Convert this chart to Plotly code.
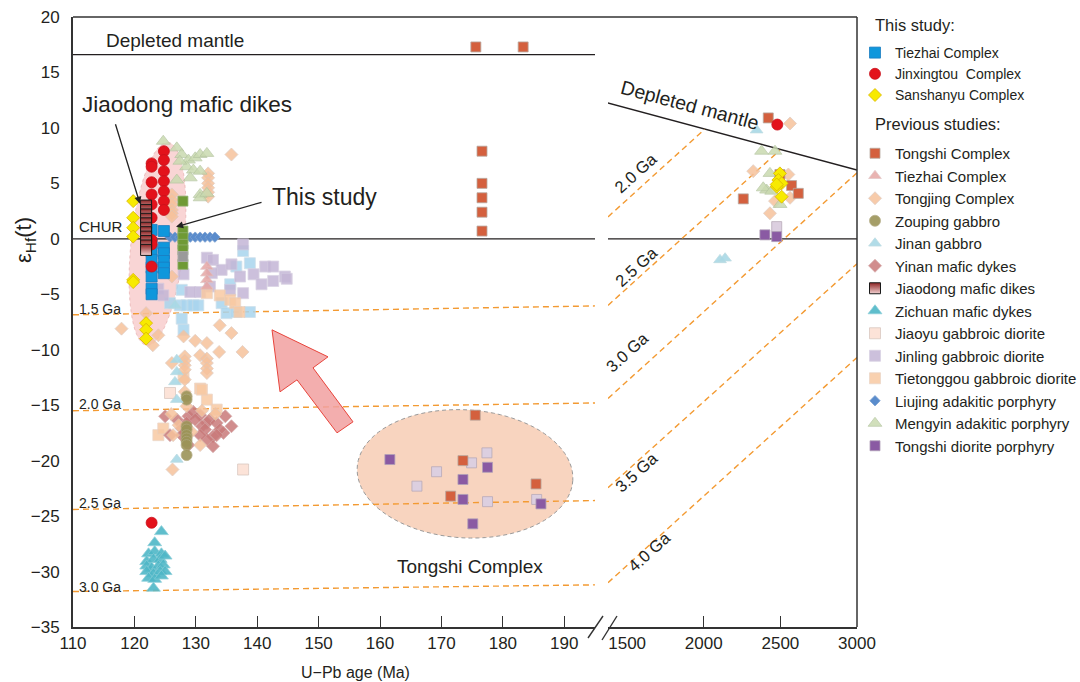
import numpy as np
import plotly.graph_objects as go

FONT = "Liberation Sans, Arial, sans-serif"
TXT = "#231f20"

# ---------------- data (age in Ma, epsilon Hf(t)) ----------------
# This study
tiezhai_age = [122.8]*8 + [124.8]*6
tiezhai_ehf = [0.8, -0.4, -1.1, -1.9, -2.6, -3.4, -4.5, -5.0, 0.7, -0.8, -1.3, -2.0, -2.6, -3.1]

jinxingtou_age = [122.8]*10 + [124.8]*7
jinxingtou_ehf = [6.8, 6.5, 5.1, 4.0, 3.1, 1.9, -0.1, -0.5, -2.5, -25.6, 7.9, 7.1, 6.1, 5.2, 4.3, 3.4, 2.6]
jinxingtou_age_old = [2480]
jinxingtou_ehf_old = [10.3]

sanshanyu_age = [119.8]*6 + [121.9]*3
sanshanyu_ehf = [3.4, 1.9, 1.0, 0.2, -3.7, -3.9, -7.6, -8.2, -9.0]
sanshanyu_age_old = [2497, 2487, 2508, 2476, 2508, 2476]
sanshanyu_ehf_old = [5.9, 5.3, 5.0, 4.7, 3.8, 4.9]

# Previous studies
tongshi_age = [175.6, 183.3, 176.6, 176.6, 176.6, 176.6, 176.6, 175.5, 173.5, 171.5, 185.4]
tongshi_ehf = [17.3, 17.3, 7.9, 5.0, 3.7, 2.4, 0.7, -15.9, -20.0, -23.2, -22.1]
tongshi_age_old = [2421, 2258, 2497, 2573, 2617]
tongshi_ehf_old = [10.9, 3.6, 5.8, 4.8, 4.1]

tiezhai_prev_age = [131.8, 131.8, 131.8, 131.8]
tiezhai_prev_ehf = [-2.5, -3.1, -3.7, -4.3]

tongjing_age = [126.1, 126.1, 126.1, 126.1, 126.1, 126.1, 126.1,
                132.0, 132.0, 132.0, 132.0, 132.0, 132.0, 135.8,
                117.9, 121.9, 123.9, 123.0, 128.0, 129.9, 131.8, 133.8, 135.8, 137.6, 133.9, 130.7,
                131.8, 131.8, 131.8, 131.8,
                126.1, 128.2, 128.2, 128.2, 128.2, 128.2, 128.2, 128.5, 126.3, 130.7, 126.2,
                127.2, 129.3, 131.0, 126.0, 133.2]
tongjing_ehf = [4.0, 3.5, 3.1, 2.6, 2.3, 2.0, -3.4,
                5.9, 5.5, 5.0, 4.6, 4.2, 3.8, 7.6,
                -8.1, -6.7, -8.7, -9.6, -8.8, -9.2, -9.4, -10.2, -8.5, -10.2, -7.8, -10.5,
                -10.8, -11.2, -11.7, -12.1,
                -11.2, -10.6, -11.0, -11.4, -11.8, -12.7, -13.8, -15.1, -17.7, -18.6, -20.8,
                -16.8, -17.4, -15.5, -15.8, -15.8]
tongjing_age_old = [2563, 2323, 2552, 2465, 2432, 2563]
tongjing_ehf_old = [10.4, 6.1, 5.8, 3.4, 2.3, 3.7]

zouping_age = [128.5]*9
zouping_ehf = [-14.2, -14.5, -16.9, -17.2, -17.7, -18.0, -18.3, -18.6, -19.5]

jinan_age = [126.9, 126.9, 126.6, 126.9, 126.9, 126.6]
jinan_ehf = [-10.9, -12.0, -12.9, -14.5, -19.9, -6.0]
jinan_age_old = [2345, 2106, 2139]
jinan_ehf_old = [9.8, -1.9, -1.75]

yinan_age = [125.0, 126.9, 127.7, 128.8, 125.8, 127.7, 129.6, 130.7, 131.8, 131.0, 132.3, 133.4, 134.8,
             135.8, 134.5, 132.8, 131.8, 132.8, 128.8, 133.9, 131.5, 129.9, 130.7, 133.4, 128.5]
yinan_ehf = [-16.0, -16.3, -17.1, -16.0, -17.7, -17.7, -15.6, -15.9, -16.6, -16.9, -16.3, -16.6, -16.0,
             -16.9, -17.5, -17.8, -18.1, -18.7, -18.6, -17.2, -17.2, -16.3, -17.7, -17.7, -16.6]

jiaodong_age = [121.9]*11
jiaodong_ehf = [3.0, 2.6, 2.2, 1.8, 1.4, 1.0, 0.6, 0.2, -0.2, -0.6, -1.0]

zichuan_age = [124.4, 123.3, 122.3, 123.3, 124.4, 122.0, 123.1, 124.2, 125.0, 122.0, 122.8, 123.9,
               124.7, 122.0, 123.1, 124.2, 125.0, 122.3, 123.3, 124.4, 123.1]
zichuan_ehf = [-26.4, -27.4, -28.4, -28.2, -28.4, -29.1, -28.9, -28.9, -28.6, -29.5, -29.7, -29.5,
               -29.4, -30.0, -30.2, -30.0, -30.0, -30.6, -30.7, -30.4, -31.5]

jiaoyu_age = [137.7, 125.8]
jiaoyu_ehf = [-20.8, -13.9]

jinling_age = [137.7, 131.8, 132.8, 134.2, 135.8, 137.2, 139.4, 141.3, 142.6, 142.6, 144.5, 140.7,
               137.7, 135.6, 132.6, 132.3, 130.7, 129.1, 128.0, 123.9, 124.7, 144.8]
jinling_ehf = [-0.5, -1.7, -1.9, -2.8, -2.3, -3.4, -3.2, -2.5, -2.5, -3.8, -3.4, -4.1,
               -4.9, -4.6, -3.1, -4.3, -4.8, -4.8, -3.2, -4.5, -5.1, -3.6]

tietonggou_age = [131.8, 133.9, 135.6, 136.4, 128.0, 130.7, 131.8, 123.9, 124.7, 131.0, 133.4, 137.1]
tietonggou_ehf = [-4.9, -5.1, -5.5, -5.8, -12.5, -13.5, -14.5, -17.7, -17.1, -13.6, -15.4, -6.6]

liujing_age = [125.8, 126.6, 127.4, 128.2, 129.1, 129.9, 130.7, 131.5, 132.3, 133.1]
liujing_ehf = [0.15]*10

mengyin_age = [124.7, 126.9, 127.7, 128.8, 129.9, 130.7, 131.8, 128.5, 129.6, 130.7, 129.1,
               130.7, 130.7, 126.9, 131.8, 127.4]
mengyin_ehf = [8.8, 8.2, 7.6, 7.1, 7.3, 7.6, 7.7, 6.5, 6.2, 6.1, 5.5, 4.0, 3.7, 5.3, 4.1, 7.0]
mengyin_age_old = [2377, 2465, 2432, 2410, 2388, 2443, 2498]
mengyin_ehf_old = [7.9, 7.9, 5.9, 4.4, 4.6, 4.3, 3.1]

tsdiorite_age = [161.6, 177.5, 173.5, 173.5, 186.2, 175.1]
tsdiorite_ehf = [-19.9, -20.6, -21.7, -23.5, -23.9, -25.7]
tsdiorite_age_old = [2399, 2476]
tsdiorite_ehf_old = [0.36, 0.2]

# unlabelled symbols present in the figure
lilac_age = [177.4, 174.9, 169.2, 166.0, 177.5, 185.5]
lilac_ehf = [-19.3, -20.2, -21.0, -22.3, -23.7, -23.5]
lilac_age_old = [2476]
lilac_ehf_old = [1.1]

ltblue_age = [136.6, 138.8, 137.7, 135.6, 127.7, 125.8, 127.4, 128.5, 129.6, 130.4, 134.2, 135.0,
              136.6, 138.8, 127.7, 128.0]
ltblue_ehf = [-2.5, -2.2, -1.1, -4.1, -4.6, -5.8, -6.0, -6.0, -6.0, -6.0, -5.8, -6.7,
              -6.6, -6.6, -7.2, -8.2]

green_age = [127.9]*6
green_ehf = [3.4, 0.7, 0.1, -0.5, -1.0, -2.3]
grey_age = [127.9]
grey_ehf = [-1.6]

# reference lines
dm_young_age = [110, 195]; dm_young_ehf = [16.6, 16.6]
chur_young_age = [110, 195]; chur_old_age = [1375, 3000]
dm_old_age = [1360, 3000]; dm_old_ehf = [12.3, 6.2]
crust_young = {  # label: (ehf at 110 Ma, ehf at 195 Ma)
    "1.5 Ga": (-6.85, -6.05), "2.0 Ga": (-15.5, -14.8),
    "2.5 Ga": (-24.4, -23.6), "3.0 Ga": (-31.8, -31.2)}
crust_old = {  # (age0, ehf0, age1, ehf1)
    "2.0 Ga": (1375, 1.98, 2005, 9.87), "2.5 Ga": (1375, -6.0, 2497, 8.0),
    "3.0 Ga": (1375, -14.4, 3000, 5.95), "3.5 Ga": (1375, -22.45, 3000, -2.25),
    "4.0 Ga": (1375, -31.0, 3000, -10.7)}

# ---------------- figure ----------------
fig = go.Figure()
OR = "#f39a32"

def line(xs, ys, xa, color=TXT, width=1.3, dash=None):
    fig.add_trace(go.Scatter(x=xs, y=ys, mode="lines", xaxis=xa, yaxis="y",
                             line=dict(color=color, width=width, dash=dash),
                             showlegend=False, hoverinfo="skip"))

line(dm_young_age, dm_young_ehf, "x")
line(chur_young_age, [0, 0], "x")
line(chur_old_age, [0, 0], "x2")
line(dm_old_age, dm_old_ehf, "x2", width=1.6)
for k, (a, b) in crust_young.items():
    line([110, 195], [a, b], "x", color=OR, width=1.4, dash="6px,4px")
for k, (x0, y0, x1, y1) in crust_old.items():
    line([x0, x1], [y0, y1], "x2", color=OR, width=1.4, dash="6px,4px")

def pts(x, y, xa, name, symbol, color, size, lcol="rgba(150,150,150,0.6)", lw=0.8,
        opacity=1.0, legend=None, rank=None, show=True, gradient=None):
    m = dict(symbol=symbol, color=color, size=size, opacity=opacity,
             line=dict(color=lcol, width=lw))
    if gradient:
        m["gradient"] = gradient
    fig.add_trace(go.Scatter(x=x, y=y, mode="markers", xaxis=xa, yaxis="y", name=name,
                             marker=m, legendgroup=name, showlegend=(legend is not None and show),
                             legend=legend if legend else "legend", legendrank=rank or 1000))

# unlabelled
pts(ltblue_age, ltblue_ehf, "x", "lb", "square", "#a9d5ee", 11, lcol="#c8dce8", opacity=0.85)
pts(lilac_age, lilac_ehf, "x", "lil", "square", "#dccfe0", 10, lcol="#b8aab8")
pts(lilac_age_old, lilac_ehf_old, "x2", "lil", "square", "#dccfe0", 10, lcol="#b8aab8")

# previous studies
S = dict(
    tongshi=("Tongshi Complex", "square", "#d4603e", 10, "#b8a8a0", 1.0),
    tiezhaip=("Tiezhai Complex", "triangle-up", "#e6a6a4", 11, "#e0c0c0", 0.85),
    tongjing=("Tongjing Complex", "diamond", "#f6c29c", 10, "#dcc8bc", 0.85),
    zouping=("Zouping gabbro", "circle", "#9c9458", 11, "#b0a880", 0.9),
    jinan=("Jinan gabbro", "triangle-up", "#a9d9e6", 11, "#b8d8e0", 0.9),
    yinan=("Yinan mafic dykes", "diamond", "#c97a7a", 10, "#d0a0a0", 0.85),
    zichuan=("Zichuan mafic dykes", "triangle-up", "#4eb7c7", 12, "#80cad6", 0.9),
    jiaoyu=("Jiaoyu gabbroic diorite", "square", "#fce3d8", 11, "#d8c8c0", 1.0),
    jinling=("Jinling gabbroic diorite", "square", "#c4b6d6", 11, "#d4cce0", 0.85),
    tietong=("Tietonggou gabbroic diorite", "square", "#f8c9a3", 11, "#e8d0c0", 0.85),
    liujing=("Liujing adakitic porphyry", "diamond", "#5a8ccc", 8, "#7aa0d0", 1.0),
    mengyin=("Mengyin adakitic porphyry", "triangle-up", "#c9dab0", 12, "#b4c4a0", 0.85),
    tsdio=("Tongshi diorite porphyry", "square", "#8a5aa3", 10, "#b0a0b8", 1.0),
)
order = ["tongshi", "tiezhaip", "tongjing", "zouping", "jinan", "yinan", "jiaodong",
         "zichuan", "jiaoyu", "jinling", "tietong", "liujing", "mengyin", "tsdio"]

def prev(key, x, y, xa="x", show=True):
    n, sym, c, s, lc, op = S[key]
    pts(x, y, xa, n, sym, c, s, lcol=lc, opacity=op, legend="legend2",
        rank=order.index(key) + 10, show=show)

prev("jinling", jinling_age, jinling_ehf)
prev("tietong", tietonggou_age, tietonggou_ehf)
prev("jiaoyu", jiaoyu_age, jiaoyu_ehf)
prev("yinan", yinan_age, yinan_ehf)
prev("tongjing", tongjing_age, tongjing_ehf)
prev("tongjing", tongjing_age_old, tongjing_ehf_old, "x2", show=False)
prev("zouping", zouping_age, zouping_ehf)
prev("jinan", jinan_age, jinan_ehf)
prev("jinan", jinan_age_old, jinan_ehf_old, "x2", show=False)
prev("zichuan", zichuan_age, zichuan_ehf)
prev("tiezhaip", tiezhai_prev_age, tiezhai_prev_ehf)
prev("mengyin", mengyin_age, mengyin_ehf)
prev("mengyin", mengyin_age_old, mengyin_ehf_old, "x2", show=False)
prev("liujing", liujing_age, liujing_ehf)
prev("tongshi", tongshi_age, tongshi_ehf)
prev("tongshi", tongshi_age_old, tongshi_ehf_old, "x2", show=False)
prev("tsdio", tsdiorite_age, tsdiorite_ehf)
prev("tsdio", tsdiorite_age_old, tsdiorite_ehf_old, "x2", show=False)
pts(green_age, green_ehf, "x", "gr", "square", "#6f9a35", 10, lcol="#90b070")
pts(grey_age, grey_ehf, "x", "gy", "square", "#9a9a9a", 10, lcol="#b0b0b0")

# this study
pts(tiezhai_age, tiezhai_ehf, "x", "Tiezhai Complex ", "square", "#0f97dc", 11,
    lcol="#1a7cc0", legend="legend", rank=1)
pts(jinxingtou_age, jinxingtou_ehf, "x", "Jinxingtou  Complex", "circle", "#e3121b", 11,
    lcol="#c8101a", legend="legend", rank=2)
pts(jinxingtou_age_old, jinxingtou_ehf_old, "x2", "Jinxingtou  Complex", "circle", "#e3121b", 11,
    lcol="#c8101a", legend="legend", rank=2, show=False)
pts(sanshanyu_age, sanshanyu_ehf, "x", "Sanshanyu Complex", "diamond", "#f7ea00", 10,
    lcol="#d8b400", legend="legend", rank=3)
pts(sanshanyu_age_old, sanshanyu_ehf_old, "x2", "Sanshanyu Complex", "diamond", "#f7ea00", 10,
    lcol="#d8b400", legend="legend", rank=3, show=False)
pts(jiaodong_age, jiaodong_ehf, "x", "Jiaodong mafic dikes", "square", "#8e2424", 11,
    lcol="#1a1a1a", lw=1, legend="legend2", rank=order.index("jiaodong") + 10,
    gradient=dict(type="vertical", color="#f2d2d2"))

# ---------------- shapes (pixel helpers for decorations) ----------------
def px2d(px, py):
    return 110 + (px - 73) / 6.141, (239 - py) / 11.09

def ellipse_path(cx, cy, a, b, ang_deg, n=90):
    t = np.linspace(0, 2 * np.pi, n)
    ang = np.radians(ang_deg)
    xs = cx + a * np.cos(t) * np.cos(ang) - b * np.sin(t) * np.sin(ang)
    ys = cy + a * np.cos(t) * np.sin(ang) + b * np.sin(t) * np.cos(ang)
    p = [px2d(x, y) for x, y in zip(xs, ys)]
    return "M " + " L ".join(f"{x:.3f},{y:.3f}" for x, y in p) + " Z"

shapes = []
shapes.append(dict(type="path", xref="x", yref="y", path=ellipse_path(157.5, 244, 102, 26.5, -84),
                   fillcolor="rgba(245,188,188,0.62)", line=dict(color="rgba(225,160,160,0.7)", width=0.8, dash="dot"),
                   layer="below"))
shapes.append(dict(type="path", xref="x", yref="y", path=ellipse_path(465, 474, 108, 64, 3.5),
                   fillcolor="rgba(247,205,180,0.85)", line=dict(color="#9a9a9a", width=1, dash="4px,3px"),
                   layer="below"))
arrow_px = [(272, 330), (328, 357), (313, 368), (353, 422), (337, 433), (297, 380), (280, 392)]
arr = [px2d(*p) for p in arrow_px]
shapes.append(dict(type="path", xref="x", yref="y",
                   path="M " + " L ".join(f"{x:.3f},{y:.3f}" for x, y in arr) + " Z",
                   fillcolor="rgba(241,160,160,0.85)", line=dict(color="#e8453c", width=1)))
# frame top / right
shapes.append(dict(type="line", xref="paper", yref="paper", x0=0, x1=1, y0=1, y1=1,
                   line=dict(color="#333", width=1.5)))
shapes.append(dict(type="line", xref="paper", yref="paper", x0=1, x1=1, y0=0, y1=1,
                   line=dict(color="#333", width=1.5)))
# axis break marks
for x0, y0, x1, y1 in [(588, 638, 603, 616), (602, 640, 617, 616)]:
    shapes.append(dict(type="line", xref="paper", yref="paper",
                       x0=(x0 - 73) / 784, x1=(x1 - 73) / 784,
                       y0=(627 - y0) / 610, y1=(627 - y1) / 610,
                       line=dict(color="#333", width=1.4)))

# ---------------- annotations ----------------
ann = []
def txt(x, y, s, size, xref="x", anchor="left", angle=0):
    ann.append(dict(x=x, y=y, xref=xref, yref="y", text=s, showarrow=False, xanchor=anchor,
                    yanchor="middle", textangle=angle, font=dict(family=FONT, size=size, color=TXT)))

txt(115.0, 17.85, "Depleted mantle", 19)
txt(110.6, 1.1, "CHUR", 15)
txt(111.1, 12.1, "Jiaodong mafic dikes", 22.5)
txt(142.1, 3.8, "This study", 23)
txt(162.4, -29.5, "Tongshi Complex", 19)
for lab, yy in [("1.5 Ga", -6.3), ("2.0 Ga", -14.9), ("2.5 Ga", -23.8), ("3.0 Ga", -31.4)]:
    txt(110.7, yy, lab, 14)
for lab, (xx, yy) in {"2.0 Ga": (1555, 5.9), "2.5 Ga": (1555, -2.5), "3.0 Ga": (1500, -10.2),
                      "3.5 Ga": (1560, -21.0), "4.0 Ga": (1640, -28.2)}.items():
    txt(xx, yy, lab, 16.5, xref="x2", anchor="center", angle=-42)
txt(1913, 12.1, "Depleted mantle", 19.5, xref="x2", anchor="center", angle=15)

# arrows
hx, hy = px2d(140, 204); tx, ty = px2d(115, 123)
ann.append(dict(x=hx, y=hy, ax=tx, ay=ty, xref="x", yref="y", axref="x", ayref="y", text="",
                showarrow=True, arrowhead=2, arrowsize=1.1, arrowwidth=1.3, arrowcolor="#222"))
hx, hy = px2d(176, 227); tx, ty = px2d(263, 202)
ann.append(dict(x=hx, y=hy, ax=tx, ay=ty, xref="x", yref="y", axref="x", ayref="y", text="",
                showarrow=True, arrowhead=2, arrowsize=1.1, arrowwidth=1.3, arrowcolor="#222"))

# axis titles and legend headers
def ptxt(px, py, s, size, anchor="center", angle=0):
    ann.append(dict(x=(px - 73) / 784, y=(627 - py) / 610, xref="paper", yref="paper",
                    text=s, showarrow=False, xanchor=anchor, yanchor="middle", textangle=angle,
                    font=dict(family=FONT, size=size, color=TXT)))

ptxt(355, 672, "U\u2212Pb age (Ma)", 16)
ptxt(25, 240, "\u03b5<sub>Hf</sub>(t)", 22, angle=-90)
ptxt(873, 25, "This study:", 16.5, anchor="left")
ptxt(873, 124, "Previous studies:", 16.5, anchor="left")

axis_common = dict(showline=True, linecolor="#333", linewidth=2, showgrid=False, zeroline=False,
                   ticks="", tickfont=dict(family=FONT, size=17, color=TXT))

fig.update_layout(
    width=1080, height=682, paper_bgcolor="white", plot_bgcolor="white",
    margin=dict(l=73, r=223, t=17, b=55, autoexpand=False),
    font=dict(family=FONT, color=TXT),
    xaxis=dict(domain=[0, 522 / 784], range=[110, 195], tickvals=list(range(110, 200, 10)),
               minor=dict(tickvals=list(range(120, 200, 10)), ticks="inside", ticklen=11,
                          tickcolor="#333", tickwidth=1.2), **axis_common),
    xaxis2=dict(domain=[535 / 784, 1], range=[1375, 3000], tickvals=[1500, 2000, 2500, 3000],
                anchor="y",
                minor=dict(tickvals=[2000, 2500], ticks="inside", ticklen=11,
                           tickcolor="#333", tickwidth=1.2), **axis_common),
    yaxis=dict(range=[-35, 20], tickvals=list(range(-35, 21, 5)), ticklabelstandoff=8,
               **axis_common),
    shapes=shapes, annotations=ann,
    legend=dict(x=(855 - 73) / 784, y=(627 - 37) / 610, xanchor="left", yanchor="top",
                font=dict(family=FONT, size=14, color=TXT), bgcolor="rgba(0,0,0,0)",
                tracegroupgap=0, itemclick=False),
    legend2=dict(x=(855 - 73) / 784, y=(627 - 137) / 610, xanchor="left", yanchor="top",
                 font=dict(family=FONT, size=15, color=TXT), bgcolor="rgba(0,0,0,0)",
                 tracegroupgap=0, itemclick=False),
)

fig.write_html("out.html")
